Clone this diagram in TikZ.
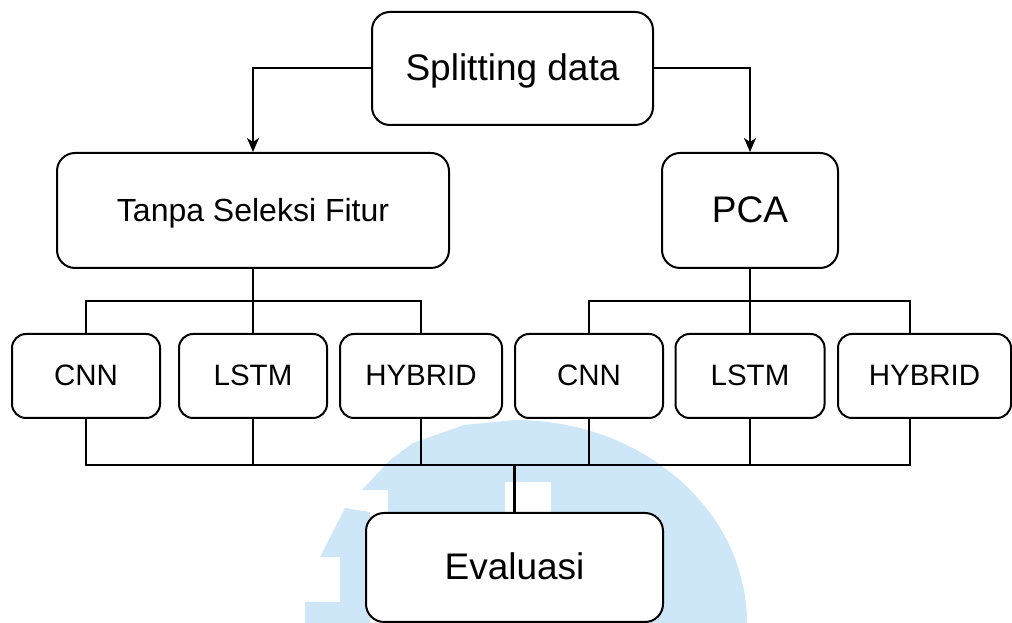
\documentclass[tikz,border=0pt]{standalone}
\usepackage{fontspec}
\setmainfont{Liberation Sans}
\usetikzlibrary{arrows.meta,positioning,calc}
\definecolor{ink}{HTML}{000000}
\definecolor{wmark}{HTML}{CDE7F9}
\newcommand{\fsz}[1]{\fontsize{#1}{#1}\selectfont}

\begin{document}
\begin{tikzpicture}[x=1pt,y=1pt,
  box/.style={draw=ink, line width=2pt, fill=white, rounded corners=18pt, inner sep=0pt, text depth=0pt},
  big/.style={box, font=\fsz{37}, text height=25pt},
  small/.style={box, rounded corners=14pt, minimum height=84pt, font=\fsz{29.5}, text height=20pt},
  wire/.style={draw=ink, line width=2pt},
  arr/.style={wire, -{Stealth[length=14pt,width=12pt,inset=4pt]}}]
  \useasboundingbox (0,0) rectangle (1012,623);
  % watermark behind the chart
  \fill[wmark] (515,203) arc[start angle=90, end angle=0, x radius=232pt, y radius=203pt] -- (515,0) -- cycle;
  \fill[wmark] (515,203) -- (464,198) -- (413,180) -- (390,163) -- (362,133) -- (388,133) -- (388,108) -- (515,108) -- cycle;
  \fill[wmark] (345,115) -- (320,66) -- (340,66) -- (340,21) -- (305,21) -- (305,0) -- (370,0) -- (370,111) -- cycle;
  \fill[white] (505,110) rectangle (551,141);
  % boxes
  \node[big, minimum width=281pt, minimum height=113pt] (split) at (512.5,554.5) {Splitting data};
  \node[box, minimum width=392pt, minimum height=115pt, font=\fsz{32}, text height=21.5pt] (tanpa) at (253,412.5) {Tanpa Seleksi Fitur};
  \node[big, minimum width=176pt, minimum height=115pt] (pca) at (750,412.5) {PCA};
  \node[small, minimum width=148pt] (cnnA) at (86,247) {CNN};
  \node[small, minimum width=148pt] (lstmA) at (253,247) {LSTM};
  \node[small, minimum width=162pt] (hybA) at (421,247) {HYBRID};
  \node[small, minimum width=148pt] (cnnB) at (589,247) {CNN};
  \node[small, minimum width=149pt] (lstmB) at (750,247) {LSTM};
  \node[small, minimum width=173pt] (hybB) at (924.5,247) {HYBRID};
  \node[big, minimum width=297pt, minimum height=109pt] (eval) at (514.5,55.5) {Evaluasi};
  \coordinate (busT) at (0,322);
  \coordinate (busB) at (0,158);
  \coordinate (tapR) at (910,0);
  % split into the two branches
  \draw[arr] (split.west) -| (tanpa.north);
  \draw[arr] (split.east) -| (pca.north);
  % branches to the models
  \draw[wire] (tanpa.south) -- (tanpa.south |- busT);
  \draw[wire] (cnnA.north) |- (hybA.north |- busT) -- (hybA.north);
  \draw[wire] (lstmA.north) -- (lstmA.north |- busT);
  \draw[wire] (pca.south) -- (pca.south |- busT);
  \draw[wire] (cnnB.north) |- (tapR |- busT) -- (tapR |- hybB.north);
  \draw[wire] (lstmB.north) -- (lstmB.north |- busT);
  % models to evaluation
  \draw[wire] (cnnA.south) |- (tapR |- busB) -- (tapR |- hybB.south);
  \foreach \m in {lstmA,hybA,cnnB,lstmB} \draw[wire] (\m.south) -- (\m.south |- busB);
  \draw[wire, line width=2.6pt] (eval.north) -- (eval.north |- busB);
\end{tikzpicture}
\end{document}
